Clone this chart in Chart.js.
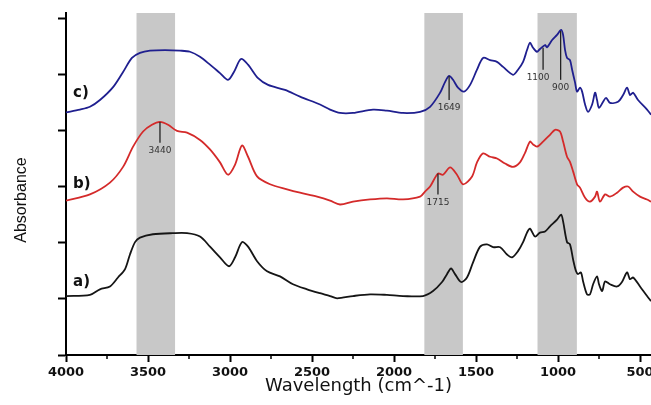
<!DOCTYPE html>
<html>
<head>
<meta charset="utf-8">
<script src="https://cdn.jsdelivr.net/npm/chart.js@4.4.0/dist/chart.umd.min.js"></script>
<style>
  html, body { margin: 0; padding: 0; background: #fff; }
  #wrap { width: 651px; height: 405px; }
</style>
</head>
<body>
<div id="wrap"><canvas id="ftir"></canvas></div>
<script>
// wavenumber (cm^-1) and absorbance (arbitrary, offset)
const waveC = [4000, 3915, 3854, 3793, 3713, 3652, 3598, 3549, 3488, 3396, 3305, 3244, 3183, 3122, 3061, 3012, 2976, 2933, 2890, 2829, 2768, 2665, 2573, 2451, 2390, 2329, 2250, 2128, 2043, 1945, 1841, 1780, 1719, 1689, 1664, 1640, 1610, 1573, 1536, 1494, 1457, 1414, 1372, 1335, 1274, 1244, 1213, 1189, 1171, 1152, 1128, 1110, 1079, 1067, 1036, 1006, 981, 969, 957, 945, 927, 914, 896, 884, 866, 853, 835, 817, 792, 774, 762, 750, 725, 707, 683, 634, 603, 579, 561, 542, 512, 457, 433];
const absC = [4.32, 4.37, 4.42, 4.54, 4.77, 5.04, 5.29, 5.38, 5.42, 5.43, 5.42, 5.40, 5.31, 5.17, 5.02, 4.90, 5.04, 5.27, 5.17, 4.93, 4.81, 4.72, 4.60, 4.46, 4.37, 4.31, 4.31, 4.37, 4.35, 4.31, 4.33, 4.42, 4.67, 4.86, 4.97, 4.90, 4.76, 4.69, 4.81, 5.08, 5.29, 5.25, 5.22, 5.13, 4.99, 5.08, 5.22, 5.43, 5.56, 5.47, 5.40, 5.45, 5.52, 5.48, 5.61, 5.70, 5.79, 5.70, 5.43, 5.29, 5.25, 5.08, 4.85, 4.69, 4.76, 4.69, 4.46, 4.33, 4.46, 4.67, 4.54, 4.40, 4.51, 4.58, 4.49, 4.51, 4.63, 4.76, 4.63, 4.67, 4.54, 4.37, 4.28];

const waveB = [4000, 3854, 3732, 3652, 3591, 3530, 3476, 3427, 3378, 3323, 3262, 3183, 3122, 3061, 3012, 2969, 2927, 2890, 2835, 2756, 2652, 2573, 2469, 2390, 2329, 2250, 2146, 2043, 1945, 1841, 1811, 1780, 1732, 1701, 1658, 1616, 1579, 1524, 1494, 1457, 1414, 1372, 1323, 1274, 1232, 1201, 1171, 1152, 1128, 1091, 1049, 1018, 988, 969, 945, 927, 908, 884, 866, 835, 805, 774, 762, 744, 713, 683, 640, 603, 573, 542, 500, 457, 433];
const absB = [2.75, 2.86, 3.07, 3.35, 3.71, 3.98, 4.10, 4.15, 4.10, 3.99, 3.96, 3.83, 3.66, 3.43, 3.21, 3.39, 3.73, 3.53, 3.18, 3.04, 2.95, 2.89, 2.82, 2.75, 2.68, 2.73, 2.77, 2.79, 2.77, 2.82, 2.91, 3.00, 3.23, 3.21, 3.34, 3.21, 3.04, 3.18, 3.43, 3.59, 3.53, 3.50, 3.41, 3.35, 3.43, 3.60, 3.80, 3.75, 3.71, 3.80, 3.92, 4.01, 3.98, 3.80, 3.53, 3.44, 3.27, 3.04, 2.98, 2.80, 2.73, 2.82, 2.91, 2.73, 2.86, 2.82, 2.89, 2.98, 3.00, 2.91, 2.82, 2.77, 2.73];

const waveA = [4000, 3854, 3793, 3732, 3683, 3640, 3610, 3579, 3549, 3470, 3348, 3262, 3183, 3122, 3061, 3006, 2969, 2927, 2890, 2835, 2774, 2695, 2616, 2530, 2451, 2390, 2347, 2250, 2146, 2043, 1945, 1823, 1762, 1707, 1677, 1652, 1628, 1591, 1555, 1518, 1475, 1433, 1396, 1353, 1311, 1280, 1244, 1213, 1189, 1171, 1140, 1110, 1079, 1049, 1006, 981, 969, 945, 927, 908, 890, 878, 860, 847, 823, 805, 786, 762, 750, 731, 713, 683, 640, 610, 579, 561, 542, 500, 457, 433];
const absA = [1.05, 1.07, 1.17, 1.22, 1.38, 1.53, 1.79, 2.01, 2.09, 2.15, 2.17, 2.17, 2.11, 1.93, 1.74, 1.58, 1.74, 2.01, 1.93, 1.67, 1.49, 1.40, 1.26, 1.17, 1.10, 1.05, 1.01, 1.05, 1.08, 1.07, 1.05, 1.05, 1.14, 1.30, 1.44, 1.54, 1.44, 1.30, 1.38, 1.65, 1.93, 1.97, 1.92, 1.92, 1.79, 1.74, 1.85, 2.01, 2.18, 2.25, 2.11, 2.18, 2.20, 2.29, 2.41, 2.50, 2.38, 2.01, 1.97, 1.70, 1.49, 1.44, 1.47, 1.31, 1.08, 1.08, 1.26, 1.40, 1.26, 1.14, 1.31, 1.26, 1.22, 1.30, 1.47, 1.35, 1.38, 1.22, 1.05, 0.96];

const seriesNames = ['c)', 'b)', 'a)'];
const seriesColors = ['#1f1f8f', '#d42a2a', '#151515'];
const seriesLabelY = [4.67, 3.04, 1.30];
const seriesLabelX = 3957;

// shaded regions
const bandFrom = [3570, 1815, 1125];
const bandTo = [3335, 1580, 885];

// peak markers
const peakText = ['3440', '1715', '1649', '1100', '900'];
const peakWave = [3427, 1732, 1664, 1091, 984];
const peakTop = [4.15, 3.23, 4.97, 5.47, 5.77];
const peakBottom = [3.78, 2.86, 4.54, 5.08, 4.90];
const peakShift = [0, 0, 0, -5, 0];

const xMajor = [4000, 3500, 3000, 2500, 2000, 1500, 1000, 500];
const xMinor = [3750, 3250, 2750, 2250, 1750, 1250, 750];
const yTicks = [0, 1, 2, 3, 4, 5, 6];

function toPoints(xs, ys) {
    return xs.map((x, i) => ({x: x, y: ys[i]}));
}

const bandsPlugin = {
    id: 'bands',
    beforeDatasetsDraw(chart) {
        const {ctx, chartArea, scales} = chart;
        ctx.save();
        ctx.fillStyle = '#c8c8c8';
        bandFrom.forEach((w, i) => {
            const x1 = scales.x.getPixelForValue(w);
            const x2 = scales.x.getPixelForValue(bandTo[i]);
            ctx.fillRect(x1, chartArea.top, x2 - x1, chartArea.bottom - chartArea.top);
        });
        ctx.restore();
    }
};

const extrasPlugin = {
    id: 'extras',
    afterDatasetsDraw(chart) {
        const {ctx, chartArea, scales} = chart;
        const xs = scales.x, ys = scales.y;
        ctx.save();

        // minor ticks on x axis
        ctx.strokeStyle = '#000';
        ctx.lineWidth = 1.5;
        xMinor.forEach(w => {
            const px = Math.round(xs.getPixelForValue(w));
            ctx.beginPath();
            ctx.moveTo(px, chartArea.bottom);
            ctx.lineTo(px, chartArea.bottom + 4);
            ctx.stroke();
        });

        // peak markers
        ctx.strokeStyle = '#222';
        ctx.lineWidth = 1.3;
        ctx.fillStyle = '#333';
        ctx.font = '9px "DejaVu Sans"';
        ctx.textAlign = 'center';
        ctx.textBaseline = 'middle';
        peakText.forEach((t, i) => {
            const px = xs.getPixelForValue(peakWave[i]);
            const y1 = ys.getPixelForValue(peakTop[i]);
            const y2 = ys.getPixelForValue(peakBottom[i]);
            ctx.beginPath();
            ctx.moveTo(px, y1);
            ctx.lineTo(px, y2);
            ctx.stroke();
            ctx.fillText(t, px + peakShift[i], y2 + 8);
        });

        // series labels
        ctx.fillStyle = '#111';
        ctx.font = 'bold 15px "DejaVu Sans"';
        ctx.textAlign = 'left';
        seriesNames.forEach((n, i) => {
            ctx.fillText(n, xs.getPixelForValue(seriesLabelX), ys.getPixelForValue(seriesLabelY[i]));
        });

        // y axis title
        ctx.translate(22, 200);
        ctx.rotate(-Math.PI / 2);
        ctx.font = '16px "Liberation Sans"';
        ctx.textAlign = 'center';
        ctx.fillText('Absorbance', 0, 0);
        ctx.restore();
    }
};

const ctx = document.getElementById('ftir').getContext('2d');
const ftirChart = new Chart(ctx, {
    type: 'line',
    data: {
        datasets: [
            {label: seriesNames[0], data: toPoints(waveC, absC), borderColor: seriesColors[0]},
            {label: seriesNames[1], data: toPoints(waveB, absB), borderColor: seriesColors[1]},
            {label: seriesNames[2], data: toPoints(waveA, absA), borderColor: seriesColors[2]}
        ]
    },
    options: {
        responsive: true,
        maintainAspectRatio: false,
        animation: false,
        devicePixelRatio: 1,
        layout: {padding: {top: 13, left: 0, right: 0, bottom: 0}, autoPadding: false},
        elements: {
            line: {borderWidth: 1.8, tension: 0.3, fill: false},
            point: {radius: 0}
        },
        plugins: {
            legend: {display: false},
            tooltip: {enabled: false}
        },
        scales: {
            x: {
                type: 'linear',
                reverse: true,
                min: 433,
                max: 4000,
                afterBuildTicks: s => { s.ticks = xMajor.map(v => ({value: v})); },
                afterFit: s => { s.height = 50; s.paddingLeft = 0; s.paddingRight = 0; },
                grid: {drawOnChartArea: false, drawTicks: true, tickLength: 7, tickWidth: 2, color: '#000'},
                border: {display: true, color: '#000', width: 2},
                ticks: {
                    color: '#111',
                    padding: 3,
                    maxRotation: 0,
                    autoSkip: false,
                    font: {family: 'DejaVu Sans', size: 13, weight: 'bold'},
                    callback: v => String(v)
                },
                title: {
                    display: true,
                    text: 'Wavelength (cm^-1)',
                    color: '#111',
                    font: {family: 'DejaVu Sans', size: 18},
                    padding: {top: 0, bottom: 8}
                }
            },
            y: {
                min: 0,
                max: 6.09,
                afterBuildTicks: s => { s.ticks = yTicks.map(v => ({value: v})); },
                afterFit: s => { s.width = 66; s.paddingTop = 0; s.paddingBottom = 0; },
                grid: {drawOnChartArea: false, drawTicks: true, tickLength: 8, tickWidth: 2, color: '#000'},
                border: {display: true, color: '#000', width: 2},
                ticks: {display: false}
            }
        }
    },
    plugins: [bandsPlugin, extrasPlugin]
});
</script>
</body>
</html>
